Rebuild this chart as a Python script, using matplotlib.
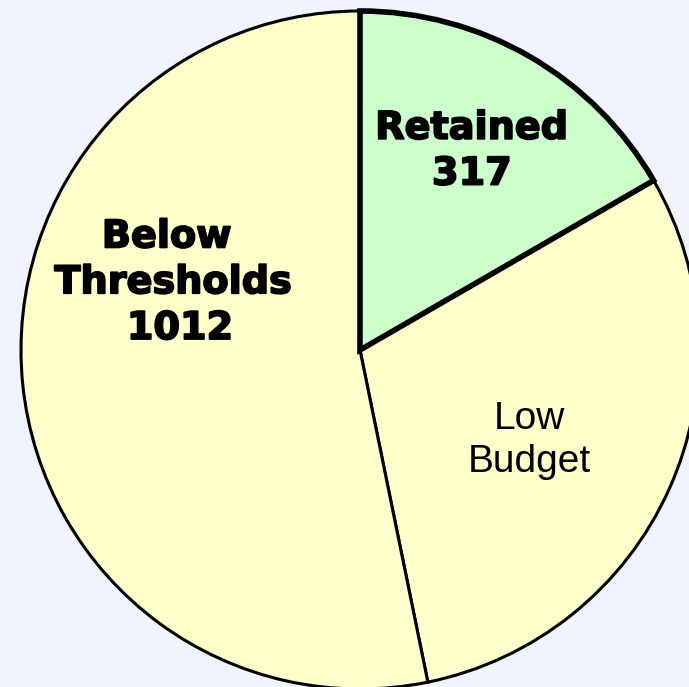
"""Pie chart: retained vs. dropped items."""
import matplotlib
matplotlib.use("Agg")
import matplotlib.pyplot as plt
import matplotlib.patheffects as pe

# ---------- Data
categories = ["Retained", "Low Budget", "Below Thresholds"]
counts = [317, 573, 1012]
labels = ["Retained\n317", "Low\nBudget", "Below \nThresholds\n 1012"]
colors = ["#ccffcc", "#ffffcc", "#ffffcc"]

# ---------- Plot
BG = "#f0f4ff"
fig = plt.figure(figsize=(6.89, 6.87), dpi=100, facecolor=BG)
ax = fig.add_axes([0, 0, 1, 1])
ax.set_facecolor(BG)

wedges, _ = ax.pie(counts, colors=colors, startangle=90, counterclock=False,
                   radius=1.0, wedgeprops=dict(edgecolor="black", linewidth=2.2))
# retained slice gets a heavier outline, drawn on top
wedges[0].set_linewidth(4)
wedges[0].set_zorder(5)

# circle centre sits at (360, 350) px with radius 339 px; right/bottom clipped
ax.set_xlim(-360 / 339, 329 / 339)
ax.set_ylim(-337 / 339, 350 / 339)
ax.set_aspect("auto")
ax.axis("off")

heavy = [pe.withStroke(linewidth=1.3, foreground="black")]
bold = dict(family="DejaVu Sans", fontweight="bold", fontsize=27.5,
            ha="center", va="center", linespacing=1.35, zorder=6,
            path_effects=heavy)
ax.text(0.33, 0.585, labels[0], **bold)
ax.text(-0.55, 0.197, labels[2], **bold)
ax.text(0.50, -0.267, labels[1], family="Liberation Sans", fontsize=28,
        ha="center", va="center", linespacing=1.25, zorder=6)

fig.savefig("out.png", dpi=100, facecolor=BG)
